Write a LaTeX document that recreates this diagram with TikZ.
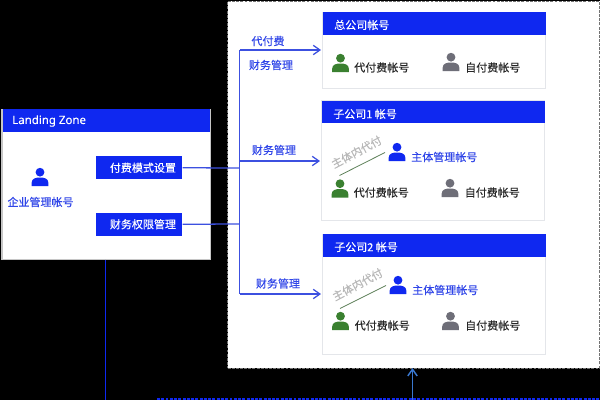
\documentclass[tikz,border=0pt]{standalone}
\usepackage{fontspec}
\setmainfont[FakeBold=0.2]{Noto Sans CJK SC}
\newfontfamily\latinf[FakeBold=0.15]{Noto Sans}
\usetikzlibrary{arrows.meta,positioning}
\definecolor{zblue}{HTML}{0F28F0}
\definecolor{ltext}{HTML}{2F45E8}
\definecolor{lineblue}{HTML}{3C50E0}
\definecolor{zgreen}{HTML}{3A8030}
\definecolor{zgray}{HTML}{6E6E78}
\definecolor{edge}{HTML}{E4E6EA}
\definecolor{upblue}{HTML}{3A78D0}
\tikzset{
 x=0.75pt,y=-0.75pt,
 card/.style={draw=edge,fill=white,line width=0.7pt,anchor=north west,minimum width=167.25pt,inner sep=0},
 head/.style={fill=zblue,anchor=north west,inner sep=0,minimum width=167.25pt,minimum height=17pt},
 htext/.style={text=white,font=\fontsize{8.25}{11}\selectfont,anchor=west,inner sep=0},
 btn/.style={fill=zblue,text=white,anchor=north west,inner sep=0,minimum width=64.5pt,minimum height=17.25pt,font=\fontsize{8.25}{11}\selectfont},
 lbl/.style={text=ltext,font=\fontsize{8.25}{11}\selectfont,inner sep=0},
 blk/.style={text=black!85,font=\fontsize{8.25}{11}\selectfont,inner sep=0},
 note/.style={text=black!28,font=\fontsize{8.25}{11}\selectfont,inner sep=0,rotate=28},
 wire/.style={draw=lineblue,line width=0.95pt},
 arrow/.style={wire,-{Straight Barb[length=5pt,width=7pt,line width=0.95pt]}},
 person/.pic={
  \fill[pic actions] (0,-4.8) circle (4.4);
  \fill[pic actions] (-8.3,9) -- (-8.3,5.5) .. controls (-8.3,1.5) and (-4,0.5) .. (0,0.5) .. controls (4,0.5) and (8.3,1.5) .. (8.3,5.5) -- (8.3,9) -- cycle;
 },
}
\begin{document}
\begin{tikzpicture}
\useasboundingbox (0,0) rectangle (600,400);
\fill[black] (0,0) rectangle (600,400);
% large dashed panel
\node[fill=white,draw=black!55,dash pattern=on 2.2pt off 0.9pt,line width=1pt,anchor=north west,minimum width=279pt,minimum height=275.25pt,inner sep=0] (panel) at (227,0.8) {};
% landing zone
\node[draw=gray!45,fill=white,line width=0.8pt,anchor=north west,minimum width=156pt,minimum height=113pt,inner sep=0] (lz) at (1.5,108.5) {};
\node[fill=zblue,anchor=north west,minimum width=155.5pt,minimum height=17pt,inner sep=0] (lzh) at (2.5,109) {};
\node[text=white,font=\fontsize{8.6}{11}\latinf,anchor=west,inner sep=0] (lzt) at (12,121) {Landing Zone};
\node[btn] (b1) at (96,156) {\hspace{5.5pt}付费模式设置};
\node[btn] (b2) at (96,212.5) {\hspace{5.5pt}财务权限管理};
\pic[zblue] at (40,177) {person};
\node[lbl] (adm) at (40.5,202) {企业管理帐号};
% cards
\node[card,minimum height=57pt] (c1) at (322,12) {};
\node[head] (h1) at (323,12) {};
\node[htext] (t1) at (334,25) {总公司帐号};
\node[card,minimum height=90pt] (c2) at (321,100) {};
\node[head] (h2) at (322,100.5) {};
\node[htext] (t2) at (333,114) {子公司1 帐号};
\node[card,minimum height=90pt] (c3) at (322,233.5) {};
\node[head] (h3) at (323,234) {};
\node[htext] (t3) at (334,247) {子公司2 帐号};
% card 1 contents
\pic[zgreen] at (340.5,63) {person};
\node[blk,anchor=west] (a1) at (354,67.5) {代付费帐号};
\pic[zgray] at (451,62) {person};
\node[blk,anchor=west] (s1) at (465,67.5) {自付费帐号};
% card 2 contents
\pic[zblue] at (397,152) {person};
\node[lbl,anchor=west] (m2) at (411,157) {主体管理帐号};
\pic[zgreen] at (340,188.5) {person};
\node[blk,anchor=west] (a2) at (353.5,192.5) {代付费帐号};
\pic[zgray] at (450,188) {person};
\node[blk,anchor=west] (s2) at (464.5,192.5) {自付费帐号};
\coordinate (l2a) at (339.5,175.5);
\coordinate (l2b) at (385,152.5);
\draw[draw=zgreen!50!gray,line width=0.6pt] (l2a) -- (l2b);
\node[note] (n2) at (356.5,152) {主体内代付};
% card 3 contents
\pic[zblue] at (398,285) {person};
\node[lbl,anchor=west] (m3) at (412,290) {主体管理帐号};
\pic[zgreen] at (340.5,321) {person};
\node[blk,anchor=west] (a3) at (354.5,325.5) {代付费帐号};
\pic[zgray] at (450.5,321) {person};
\node[blk,anchor=west] (s3) at (465,325.5) {自付费帐号};
\coordinate (l3a) at (340,308.5);
\coordinate (l3b) at (386,285.5);
\draw[draw=zgreen!50!gray,line width=0.6pt] (l3a) -- (l3b);
\node[note] (n3) at (357.5,284.5) {主体内代付};
% connectors
\coordinate (j1) at (239.5,168);
\coordinate (j2) at (239.5,224);
\coordinate (top) at (239.5,50);
\coordinate (mid) at (239.5,161);
\coordinate (bot) at (239.5,294);
\coordinate (e1) at (321,50);
\coordinate (e2) at (320,161);
\coordinate (e3) at (321,294);
\draw[wire] (top) -- (bot);
\draw[wire] (b1.east) -- (j1);
\draw[wire] (b2.east) -- (j2);
\draw[arrow] (top) -- (e1);
\draw[arrow] (mid) -- (e2);
\draw[arrow] (bot) -- (e3);
\node[lbl] (f1) at (268,41) {代付费};
\node[lbl] (f2) at (271,65) {财务管理};
\node[lbl] (f3) at (274,150) {财务管理};
\node[lbl] (f4) at (278,283.5) {财务管理};
% bottom
\coordinate (v0) at (105.5,400);
\draw[draw=zblue,line width=1.1pt] (105.5,259.5) -- (v0);
\coordinate (d0) at (157,399.2);
\coordinate (d1) at (600,399.2);
\draw[draw=zblue,line width=1.2pt,dash pattern=on 2.2pt off 1pt] (d0) -- (d1);
\coordinate (up0) at (412.5,399.5);
\coordinate (up1) at (412.5,368);
\draw[draw=upblue,line width=1.1pt,-{Straight Barb[length=5pt,width=7pt,line width=1.1pt]}] (up0) -- (up1);
\end{tikzpicture}
\end{document}
